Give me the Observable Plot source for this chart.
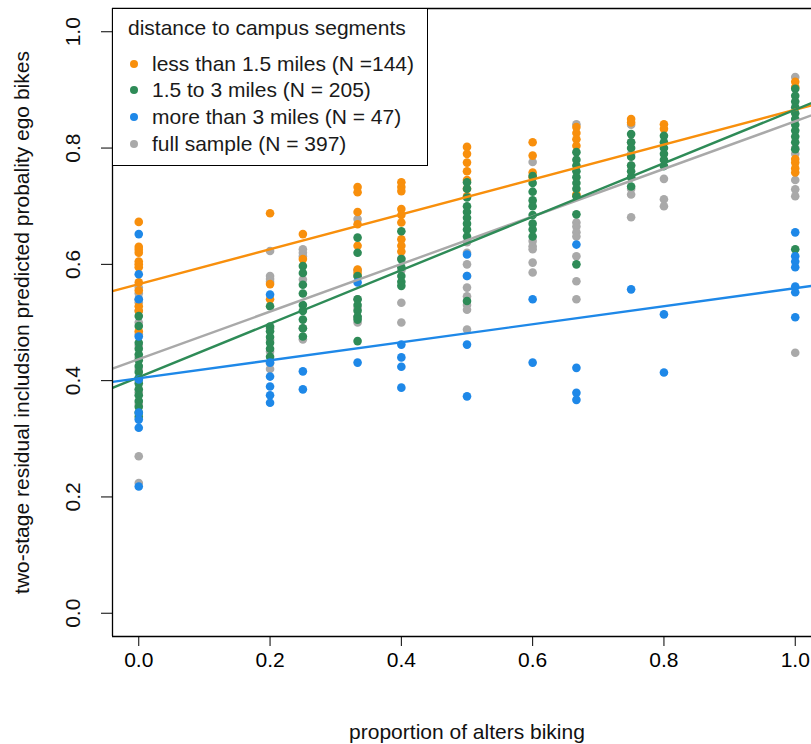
<!DOCTYPE html>
<html>
<head>
<meta charset="utf-8">
<script src="https://cdn.jsdelivr.net/npm/d3@7"></script>
<script src="https://cdn.jsdelivr.net/npm/@observablehq/plot@0.6"></script>
<style>
  html, body { margin: 0; padding: 0; background: #fff; }
  #wrap { position: relative; width: 811px; height: 744px; overflow: hidden; font-family: "Liberation Sans", Arial, sans-serif; }
  #legend { position: absolute; left: 112px; top: 8px; width: 316px; height: 158px; border: 1.3px solid #000; background: #fff; box-sizing: border-box; color: #1a1a1a; }
  #legend .t { position: absolute; left: 15px; font-size: 21px; line-height: 22px; white-space: nowrap; }
  #legend .item { position: absolute; left: 39px; font-size: 21px; line-height: 22px; white-space: nowrap; }
  #legend .dot { position: absolute; left: 17px; width: 8px; height: 8px; border-radius: 50%; }
</style>
</head>
<body>
<div id="wrap"></div>
<script>
// x positions (proportion of alters biking) of the point columns
const xCols = [0, 0.2, 0.25, 1/3, 0.4, 0.5, 0.6, 2/3, 0.75, 0.8, 1];

// predicted probabilities, one sub-array per x column
const fullY = [
  [0.56, 0.55, 0.54, 0.535, 0.52, 0.50, 0.48, 0.46, 0.44, 0.42, 0.40, 0.38, 0.36, 0.27, 0.224],
  [0.623, 0.58, 0.575, 0.57, 0.49, 0.47, 0.45, 0.43, 0.42],
  [0.626, 0.62, 0.614, 0.574, 0.49, 0.471],
  [0.678, 0.59, 0.58, 0.54, 0.525, 0.51, 0.50],
  [0.61, 0.59, 0.534, 0.50],
  [0.638, 0.62, 0.60, 0.58, 0.56, 0.545, 0.53, 0.522, 0.488],
  [0.776, 0.64, 0.631, 0.626, 0.603, 0.586],
  [0.841, 0.672, 0.665, 0.655, 0.648, 0.614, 0.571, 0.54],
  [0.84, 0.81, 0.79, 0.77, 0.75, 0.73, 0.72, 0.681],
  [0.747, 0.712, 0.70],
  [0.922, 0.80, 0.79, 0.745, 0.729, 0.717, 0.448]
];
const lessY = [
  [0.673, 0.63, 0.625, 0.62, 0.605, 0.60, 0.595, 0.569, 0.555, 0.528, 0.52, 0.485],
  [0.688, 0.566, 0.54],
  [0.652, 0.609],
  [0.733, 0.724, 0.69, 0.669, 0.632, 0.591, 0.585],
  [0.741, 0.733, 0.726, 0.695, 0.685, 0.672, 0.643, 0.632, 0.622],
  [0.802, 0.79, 0.775, 0.76, 0.745, 0.73, 0.717],
  [0.81, 0.787, 0.758, 0.75],
  [0.836, 0.826, 0.815, 0.804, 0.72],
  [0.85, 0.844],
  [0.841, 0.833],
  [0.914, 0.905, 0.781, 0.775, 0.765, 0.758]
];
const midY = [
  [0.511, 0.494, 0.465, 0.455, 0.445, 0.435, 0.425, 0.415, 0.405, 0.395, 0.385, 0.375, 0.365, 0.355, 0.345, 0.338],
  [0.528, 0.493, 0.485, 0.475, 0.465, 0.455, 0.441],
  [0.597, 0.585, 0.565, 0.55, 0.53, 0.52, 0.505, 0.49, 0.476],
  [0.646, 0.62, 0.58, 0.54, 0.53, 0.52, 0.51, 0.505, 0.468],
  [0.657, 0.609, 0.595, 0.58, 0.57, 0.563],
  [0.741, 0.73, 0.715, 0.70, 0.69, 0.68, 0.67, 0.66, 0.648, 0.537],
  [0.752, 0.74, 0.725, 0.71, 0.70, 0.685, 0.67, 0.66, 0.648],
  [0.793, 0.78, 0.77, 0.76, 0.75, 0.74, 0.73, 0.717, 0.686, 0.60],
  [0.824, 0.81, 0.80, 0.785, 0.77, 0.76, 0.75, 0.734],
  [0.821, 0.81, 0.80, 0.79, 0.78, 0.769],
  [0.902, 0.89, 0.88, 0.87, 0.86, 0.85, 0.84, 0.83, 0.82, 0.81, 0.798, 0.626]
];
const moreY = [
  [0.652, 0.583, 0.54, 0.476, 0.402, 0.345, 0.333, 0.319, 0.218],
  [0.548, 0.431, 0.407, 0.39, 0.375, 0.362],
  [0.416, 0.385],
  [0.569, 0.431],
  [0.462, 0.44, 0.424, 0.388],
  [0.617, 0.58, 0.462, 0.373],
  [0.54, 0.431],
  [0.634, 0.422, 0.379, 0.367],
  [0.557],
  [0.514, 0.414],
  [0.655, 0.614, 0.605, 0.595, 0.562, 0.552, 0.509]
];

// groups (drawing order: full sample underneath)
const groupKeys   = ["full", "less", "mid", "more"];
const groupLabels = ["full sample (N = 397)", "less than 1.5 miles (N =144)", "1.5 to 3 miles (N = 205)", "more than 3 miles (N = 47)"];
const groupColors = ["#a9a9a9", "#f88f0c", "#2e8b57", "#1e88e8"];
const groupData   = [fullY, lessY, midY, moreY];

// fitted regression lines per group
const lineIntercepts = [0.437, 0.566, 0.406, 0.404];
const lineSlopes     = [0.409, 0.300, 0.460, 0.155];

// legend order
const legendOrder = ["less", "mid", "more", "full"];
const legendTitle = "distance to campus segments";

// axes
const xTicks = [0, 0.2, 0.4, 0.6, 0.8, 1.0];
const yTicks = [0, 0.2, 0.4, 0.6, 0.8, 1.0];
const xLabel = "proportion of alters biking";
const yLabel = "two-stage residual includsion predicted probality ego bikes";
const xDomain = [-0.04, 1.04];
const yDomain = [-0.04, 1.04];

const points = groupKeys.map((g, gi) =>
  groupData[gi].flatMap((ys, i) => ys.map(y => ({x: xCols[i], y, g}))));
const lines = groupKeys.map((g, gi) =>
  xDomain.map(x => ({x, y: lineIntercepts[gi] + lineSlopes[gi] * x, g})));

const marks = [];
groupKeys.forEach((g, gi) => {
  marks.push(Plot.dot(points[gi], {x: "x", y: "y", r: 4.3, fill: groupColors[gi], stroke: "none"}));
});
groupKeys.forEach((g, gi) => {
  marks.push(Plot.line(lines[gi], {x: "x", y: "y", stroke: groupColors[gi], strokeWidth: 2.4, clip: true}));
});
// plot box
marks.push(Plot.ruleY(yDomain, {x1: xDomain[0], x2: xDomain[1], stroke: "#000", strokeWidth: 1.3}));
marks.push(Plot.ruleX([xDomain[0]], {y1: yDomain[0], y2: yDomain[1], stroke: "#000", strokeWidth: 1.3}));
// axes
marks.push(Plot.axisX({ticks: xTicks, tickFormat: d3.format(".1f"), tickSize: 10, tickPadding: 6, fontSize: 21, label: null, stroke: "#000"}));
marks.push(Plot.axisY({ticks: yTicks, tickSize: 11, text: null, label: null, stroke: "#000"}));
marks.push(Plot.text(yTicks, {y: d => d, text: d => d3.format(".1f")(d), frameAnchor: "left", textAnchor: "middle", lineAnchor: "middle", dx: -39, rotate: -90, fontSize: 21, fill: "#111"}));
marks.push(Plot.text([xLabel], {x: 0.5, text: d => d, frameAnchor: "bottom", textAnchor: "middle", lineAnchor: "middle", dy: 96, fontSize: 21, fill: "#111"}));
marks.push(Plot.text([yLabel], {y: 0.5, text: d => d, frameAnchor: "left", textAnchor: "middle", lineAnchor: "middle", dx: -90, rotate: -90, fontSize: 21, fill: "#111"}));

const chart = Plot.plot({
  width: 811,
  height: 744,
  marginLeft: 112,
  marginRight: 0,
  marginTop: 8,
  marginBottom: 108,
  x: {domain: xDomain, range: [112, 821]},
  y: {domain: yDomain},
  style: {fontFamily: "'Liberation Sans', Arial, sans-serif", fontSize: "21px", color: "#000", background: "#fff"},
  marks
});
const wrap = document.getElementById("wrap");
wrap.appendChild(chart);

// legend overlay (top-left inside plot box)
const legend = document.createElement("div");
legend.id = "legend";
const title = document.createElement("div");
title.className = "t";
title.style.top = "8px";
title.textContent = legendTitle;
legend.appendChild(title);
const itemTops = [44, 70, 97, 124];
legendOrder.forEach((k, i) => {
  const gi = groupKeys.indexOf(k);
  const dot = document.createElement("div");
  dot.className = "dot";
  dot.style.top = (itemTops[i] + 7) + "px";
  dot.style.background = groupColors[gi];
  legend.appendChild(dot);
  const it = document.createElement("div");
  it.className = "item";
  it.style.top = itemTops[i] + "px";
  it.textContent = groupLabels[gi];
  legend.appendChild(it);
});
wrap.appendChild(legend);
</script>
</body>
</html>
